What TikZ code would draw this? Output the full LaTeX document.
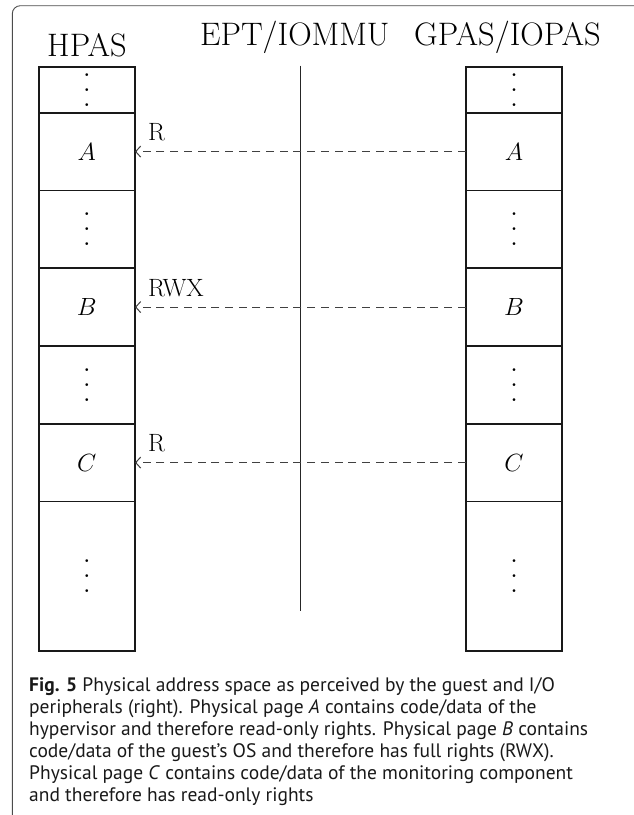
\documentclass[tikz,border=0pt]{standalone}
\usepackage{fontspec}
\newfontfamily\capfont{PT Sans}
\usetikzlibrary{arrows.meta}
\tikzset{
  cell/.style={draw=black!90, line width=1.6pt, minimum width=96.3pt, inner sep=0pt, outer sep=0pt},
  big/.style={font=\fontsize{32.5}{36}\selectfont, inner sep=0pt},
  cellfont/.style={font=\fontsize{31.5}{36}\selectfont},
  lab/.style={font=\fontsize{25}{30}\selectfont, inner sep=0pt, anchor=base west},
  maparrow/.style={draw=black!75, line width=1.1pt, dash pattern=on 8pt off 5.7pt, -{Straight Barb[length=5pt,width=11pt,line width=1pt]}},
  capline/.style={font=\capfont\fontsize{19.5}{22}\selectfont, inner sep=0pt, anchor=base west, text=black!90}
}
\newcommand{\mydots}{\vbox{\fontsize{34}{15}\selectfont\baselineskip=15pt\lineskiplimit=0pt\hbox{.}\hbox{.}\hbox{.}}}
\begin{document}
\begin{tikzpicture}[x=1pt,y=-1pt]
\useasboundingbox (0,0) rectangle (634,815);
% frame
\coordinate (fb) at (12.3,815);
\coordinate (fr) at (634,5.7);
\draw[black!70, line width=0.9pt, rounded corners=8pt] (fb) -- (12.3,5.7) -- (fr);
% headers
\node[big, anchor=base] (hpas) at (87,56.5) {HPAS};
\node[big, anchor=base west] (ept) at (200,45) {EPT/IOMMU};
\node[big, anchor=base west] (gpas) at (414,45) {GPAS/IOPAS};
% left column (HPAS)
\node[cell, minimum height=46pt, anchor=north] (hd1) at (86.85,66.7) {\mydots};
\node[cell, minimum height=77.75pt, anchor=north, cellfont] (hA) at (hd1.south) {$A$};
\node[cell, minimum height=77.75pt, anchor=north] (hd2) at (hA.south) {\mydots};
\node[cell, minimum height=77.75pt, anchor=north, cellfont] (hB) at (hd2.south) {$B$};
\node[cell, minimum height=77.75pt, anchor=north] (hd3) at (hB.south) {\mydots};
\node[cell, minimum height=77.75pt, anchor=north, cellfont] (hC) at (hd3.south) {$C$};
\node[cell, minimum height=149.5pt, anchor=north] (hd4) at (hC.south) {\mydots};
% right column (GPAS)
\node[cell, minimum height=46pt, anchor=north] (gd1) at (514,66.7) {\mydots};
\node[cell, minimum height=77.75pt, anchor=north, cellfont] (gA) at (gd1.south) {$A$};
\node[cell, minimum height=77.75pt, anchor=north] (gd2) at (gA.south) {\mydots};
\node[cell, minimum height=77.75pt, anchor=north, cellfont] (gB) at (gd2.south) {$B$};
\node[cell, minimum height=77.75pt, anchor=north] (gd3) at (gB.south) {\mydots};
\node[cell, minimum height=77.75pt, anchor=north, cellfont] (gC) at (gd3.south) {$C$};
\node[cell, minimum height=149.5pt, anchor=north] (gd4) at (gC.south) {\mydots};
% separator
\coordinate (vt) at (300.3,65.7);
\coordinate (vb) at (300.3,610.7);
\draw[black!85, line width=1pt] (vt) -- (vb);
% mappings
\draw[maparrow] (gA.west) -- (hA.east);
\draw[maparrow] (gB.west) -- (hB.east);
\draw[maparrow] (gC.west) -- (hC.east);
\node[lab] (rA) at ([xshift=13pt,yshift=11pt]hA.east) {R};
\node[lab] (rB) at ([xshift=13pt,yshift=11pt]hB.east) {RWX};
\node[lab] (rC) at ([xshift=13pt,yshift=11pt]hC.east) {R};
% caption
\node[capline] (c1) at (29,691) {\textbf{Fig. 5} Physical address space as perceived by the guest and I/O};
\node[capline] (c2) at (29,713) {peripherals (right). Physical page \textit{A} contains code/data of the};
\node[capline] (c3) at (29,735) {hypervisor and therefore read-only rights. Physical page \textit{B} contains};
\node[capline] (c4) at (29,757) {code/data of the guest’s OS and therefore has full rights (RWX).};
\node[capline] (c5) at (29,779) {Physical page \textit{C} contains code/data of the monitoring component};
\node[capline] (c6) at (29,801) {and therefore has read-only rights};
\end{tikzpicture}
\end{document}
